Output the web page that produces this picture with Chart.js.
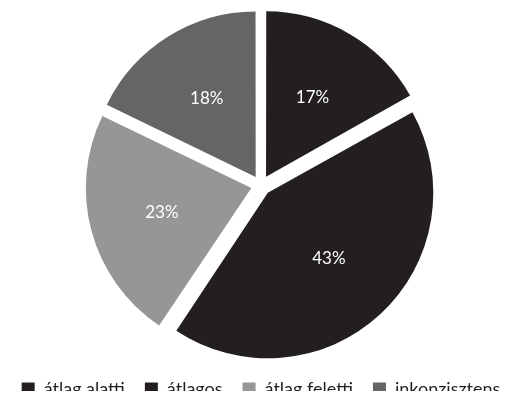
<!DOCTYPE html>
<html>
<head>
<meta charset="utf-8">
<script src="https://cdn.jsdelivr.net/npm/chart.js@4"></script>
<style>
  html, body { margin: 0; padding: 0; background: #fff; }
  #wrap { width: 522px; height: 402px; }
</style>
</head>
<body>
<div id="wrap"><canvas id="pieChart"></canvas></div>
<script>
// categories and shares (%)
var categories = ["átlag alatti", "átlagos", "átlag feletti", "inkonzisztens"];
var shares = [17, 43, 23, 18];
var sliceColors = ['#231f20', '#231f20', '#969696', '#656565'];

var explode = 40;      // chart.js draws arcs shifted by offset/4
var legendRoom = 31;   // vertical space left for the legend row
var legendLift = 11;

// draw the percent labels inside each slice
var pctLabels = {
    id: 'pctLabels',
    afterDatasetsDraw: function (chart) {
        var ctx = chart.ctx;
        var meta = chart.getDatasetMeta(0);
        ctx.save();
        ctx.fillStyle = '#ffffff';
        ctx.font = '17px Lato, sans-serif';
        ctx.textAlign = 'center';
        ctx.textBaseline = 'middle';
        meta.data.forEach(function (arc, i) {
            var p = arc.tooltipPosition();
            ctx.fillText(shares[i] + '%', p.x, p.y);
        });
        ctx.restore();
    }
};

// keep all exploded slices at the same radius
var evenRadius = {
    id: 'evenRadius',
    afterDatasetsUpdate: function (chart) {
        var d = explode / 4;
        chart.getDatasetMeta(0).data.forEach(function (arc) {
            var fix = 1 - Math.sin(Math.min(Math.PI, arc.circumference));
            arc.outerRadius -= d * fix;
        });
    }
};

// compact legend: less height reserved, row sits near the bottom
var legendSpace = {
    id: 'legendSpace',
    beforeUpdate: function (chart) {
        var lg = chart.legend;
        if (lg && !lg._patched) {
            var origFit = lg.fit;
            lg.fit = function () {
                origFit.call(this);
                this.height = legendRoom;
            };
            lg._patched = true;
        }
    },
    afterLayout: function (chart) {
        chart.legend.top -= legendLift;
        chart.legend.bottom -= legendLift;
    }
};

var ctx = document.getElementById('pieChart').getContext('2d');
var chart = new Chart(ctx, {
    type: 'pie',
    data: {
        labels: categories,
        datasets: [{
            data: shares,
            backgroundColor: sliceColors,
            borderWidth: 0,
            offset: explode
        }]
    },
    options: {
        responsive: true,
        maintainAspectRatio: false,
        animation: false,
        layout: { padding: { top: -4, bottom: 0 } },
        plugins: {
            tooltip: { enabled: false },
            legend: {
                position: 'bottom',
                labels: {
                    boxWidth: 13,
                    boxHeight: 13,
                    padding: 20,
                    color: '#231f20',
                    font: { family: 'Lato, sans-serif', size: 18 }
                }
            }
        }
    },
    plugins: [pctLabels, evenRadius, legendSpace]
});
</script>
</body>
</html>
